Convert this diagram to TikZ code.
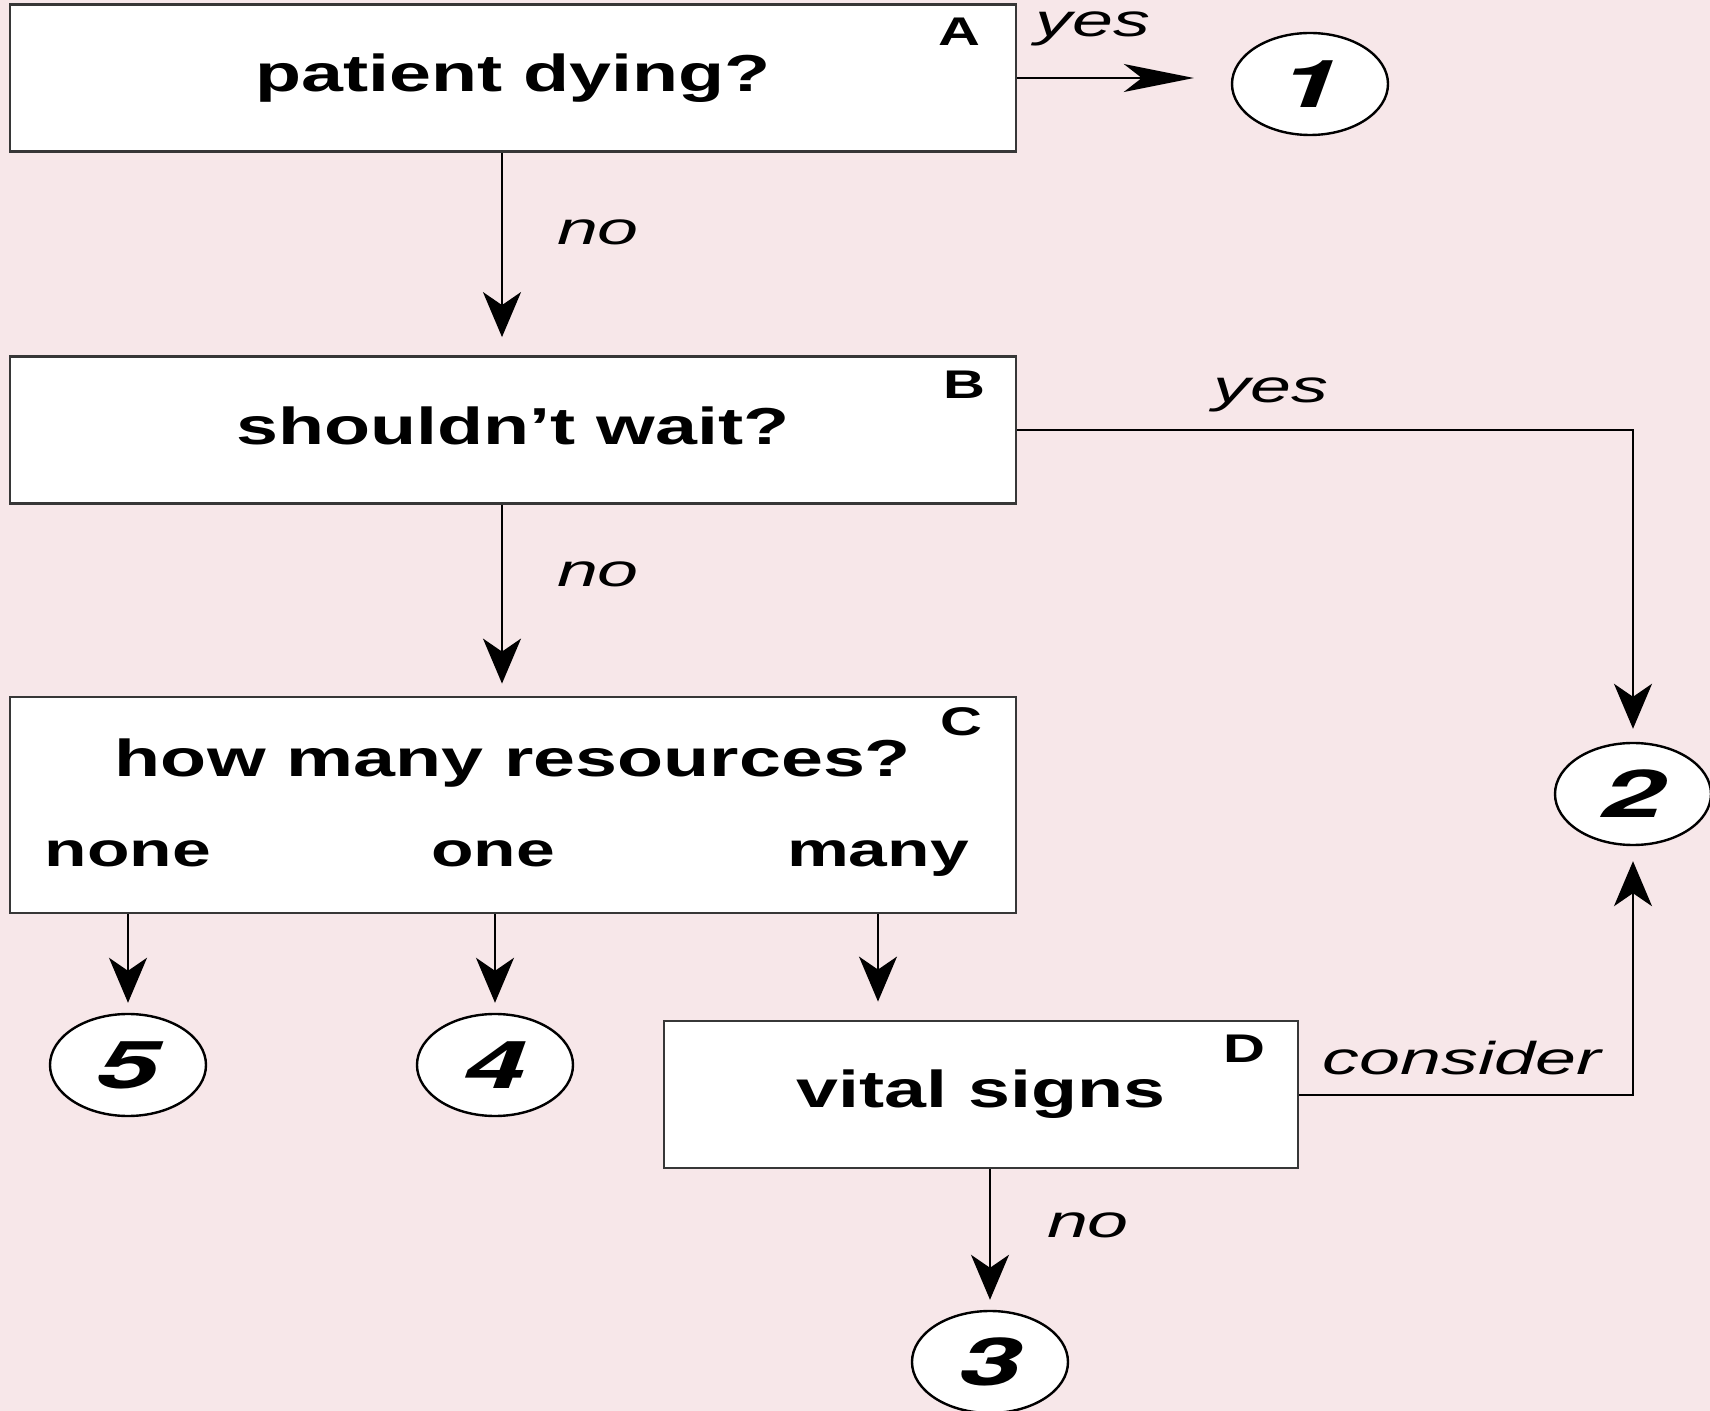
\documentclass[tikz,border=0pt]{standalone}
\usepackage{fontspec}
\usetikzlibrary{arrows.meta,shapes.geometric}
\newfontfamily\bsans[FakeStretch=1.45]{Liberation Sans}
\newfontfamily\isans[FakeStretch=1.6]{Liberation Sans}
\newfontfamily\dsans[FakeStretch=1.7]{TeX Gyre Heros}
\definecolor{bgpink}{RGB}{247,231,233}
\definecolor{boxline}{RGB}{55,55,55}
\begin{document}
\begin{tikzpicture}[x=0.5pt,y=-0.5pt,
  box/.style={draw=boxline, line width=1.4pt, fill=white, inner sep=0pt,
    minimum width=503pt, minimum height=73.5pt},
  oval/.style={ellipse, draw=black, line width=1.2pt, fill=white, inner sep=0pt,
    minimum width=78pt, minimum height=51pt,
    font=\dsans\bfseries\itshape\fontsize{33}{36}\selectfont},
  title/.style={anchor=base, inner sep=0pt, font=\bsans\bfseries\fontsize{26}{30}\selectfont},
  choice/.style={anchor=base, inner sep=0pt, font=\bsans\bfseries\fontsize{24}{28}\selectfont},
  letter/.style={anchor=base, inner sep=0pt, font=\bsans\bfseries\fontsize{20}{24}\selectfont},
  answer/.style={anchor=base, inner sep=0pt, font=\isans\itshape\fontsize{23}{26}\selectfont},
  conn/.style={line width=1pt, draw=black},
  vtip/.style={-{Stealth[length=22.5pt,width=19pt,inset=6.5pt]}},
  htip/.style={-{Stealth[length=35pt,width=14pt,inset=9pt]}}
]
\useasboundingbox (0,0) rectangle (1710,1411);
\fill[bgpink] (0,0) rectangle (1710,1411);

% boxes
\node[box] (A) at (513,78) {};
\node[box] (B) at (513,430) {};
\node[box, minimum height=108pt] (C) at (513,805) {};
\node[box, minimum width=317pt] (D) at (981,1094.5) {};

% box texts
\node[title] (tA) at (513,92) {patient dying?};
\node[title] (tB) at (513,445) {shouldn’t wait?};
\node[title] (tC) at (513,777) {how many resources?};
\node[title] (tD) at (981,1107) {vital signs};
\node[choice] (none) at (128,867) {none};
\node[choice] (one) at (493,867) {one};
\node[choice] (many) at (878,867) {many};
\node[letter] (lA) at (959,46) {A};
\node[letter] (lB) at (964,399) {B};
\node[letter] (lC) at (961,736) {C};
\node[letter] (lD) at (1244,1062) {D};

% outcome ovals
\node[oval] (c1) at (1310,84) {1};
\node[oval] (c2) at (1633,794) {2};
\node[oval] (c3) at (990,1362) {3};
\node[oval] (c4) at (495,1065) {4};
\node[oval] (c5) at (128,1065) {5};

% connectors
\coordinate (ax) at (502,0);
\draw[conn,htip,shorten >=18.5pt] (A.east) -- (A.east -| c1.west);
\draw[conn,vtip,shorten >=9pt] (A.south -| ax) -- (B.north -| ax);
\draw[conn,vtip,shorten >=6pt] (B.south -| ax) -- (C.north -| ax);
\draw[conn,vtip,shorten >=6.5pt] (B.east) -| (c2.north);
\draw[conn,vtip,shorten >=5pt] (C.south -| c5) -- (c5.north);
\draw[conn,vtip,shorten >=5pt] (C.south -| c4) -- (c4.north);
\draw[conn,vtip,shorten >=9pt] (C.south -| many) -- (D.north -| many);
\draw[conn,vtip,shorten >=7.5pt] (D.east) -| (c2.south);
\draw[conn,vtip,shorten >=5pt] (D.south -| c3) -- (c3.north);

% connector labels
\node[answer] (yA) at (1093,37) {yes};
\node[answer] (yB) at (1271,403) {yes};
\node[answer] (nA) at (598,245) {no};
\node[answer] (nB) at (598,587) {no};
\node[answer] (cons) at (1462,1074) {consider};
\node[answer] (nD) at (1088,1237) {no};
\end{tikzpicture}
\end{document}
